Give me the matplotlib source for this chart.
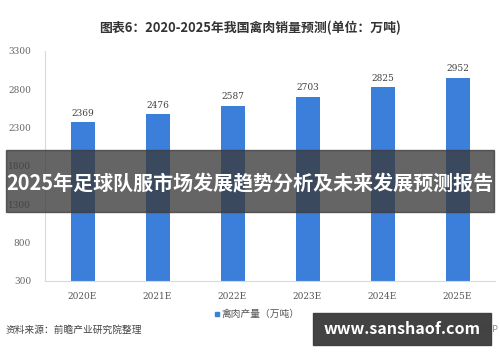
import matplotlib
matplotlib.use("Agg")
import matplotlib.pyplot as plt
from matplotlib.patches import Rectangle

plt.rcParams['font.family'] = ['Noto Sans CJK SC', 'DejaVu Sans']

categories = ["2020E", "2021E", "2022E", "2023E", "2024E", "2025E"]
values = [2369, 2476, 2587, 2703, 2825, 2952]
yticks = [300, 800, 1300, 1800, 2300, 2800, 3300]
title = "图表6：2020-2025年我国禽肉销量预测(单位：万吨)"
legend_label = "禽肉产量（万吨）"
source = "资料来源：前瞻产业研究院整理"
banner = "2025年足球队服市场发展趋势分析及未来发展预测报告"
site = "www.sanshaof.com"
app = "前瞻经济学人APP"

W, H = 500, 362
fig = plt.figure(figsize=(W/100, H/100), dpi=100)
ax = fig.add_axes([45/W, (H-281)/H, 450/W, 230/H])

x = list(range(len(categories)))
bar_color = "#3b7fdb"
ax.bar(x, values, width=0.32, color=bar_color, bottom=0)
ax.set_xlim(-0.5, len(categories)-0.5)
ax.set_ylim(300, 3300)
ax.set_yticks(yticks)
ax.set_yticklabels([str(t) for t in yticks], family='DejaVu Serif', fontsize=6.5, color="#666666")
ax.set_xticks(x)
ax.set_xticklabels(categories, family='DejaVu Serif', fontsize=6.5, color="#555555")
ax.tick_params(length=0, pad=8)
ax.tick_params(axis='y', pad=10)
for s in ["top", "right"]:
    ax.spines[s].set_visible(False)
ax.spines["left"].set_color("#d9d9d9")
ax.spines["bottom"].set_color("#d9d9d9")
for xi, v in zip(x, values):
    ax.text(xi, v + 60, str(v), ha="center", va="bottom", fontsize=6.5,
            family='DejaVu Serif', color="#404040")

fig.text(250/W, 1-28/H, title, ha="center", va="center", fontsize=9.3,
         fontweight="bold", color="#333333")

# legend
fig.patches.append(Rectangle((215/W, 1-316/H), 4/W, 4/H, transform=fig.transFigure,
                             color=bar_color))
fig.text(222/W, 1-314/H, legend_label, ha="left", va="center", fontsize=7, color="#555555")

fig.text(6/W, 1-330/H, source, ha="left", va="center", fontsize=7, color="#444444")
fig.text(498/W, 1-329/H, app, ha="right", va="center", fontsize=6.5, color="#888888", zorder=1)

# overlay banner
fig.patches.append(Rectangle((6/W, 1-212/H), 488/W, 62/H, transform=fig.transFigure,
                             color="#3a3a3a", alpha=0.78, zorder=5))
fig.text(250/W, 1-183/H, banner, ha="center", va="center", fontsize=14.4,
         fontweight="bold", color="white", zorder=6)

# site box
fig.patches.append(Rectangle((313/W, 1-345/H), 178/W, 32/H, transform=fig.transFigure,
                             color="#3d3d3d", alpha=0.97, zorder=5))
fig.text(402/W, 1-329/H, site, ha="center", va="center", fontsize=11.5,
         fontweight="bold", color="white", zorder=6)

fig.savefig("out.png", dpi=100)
